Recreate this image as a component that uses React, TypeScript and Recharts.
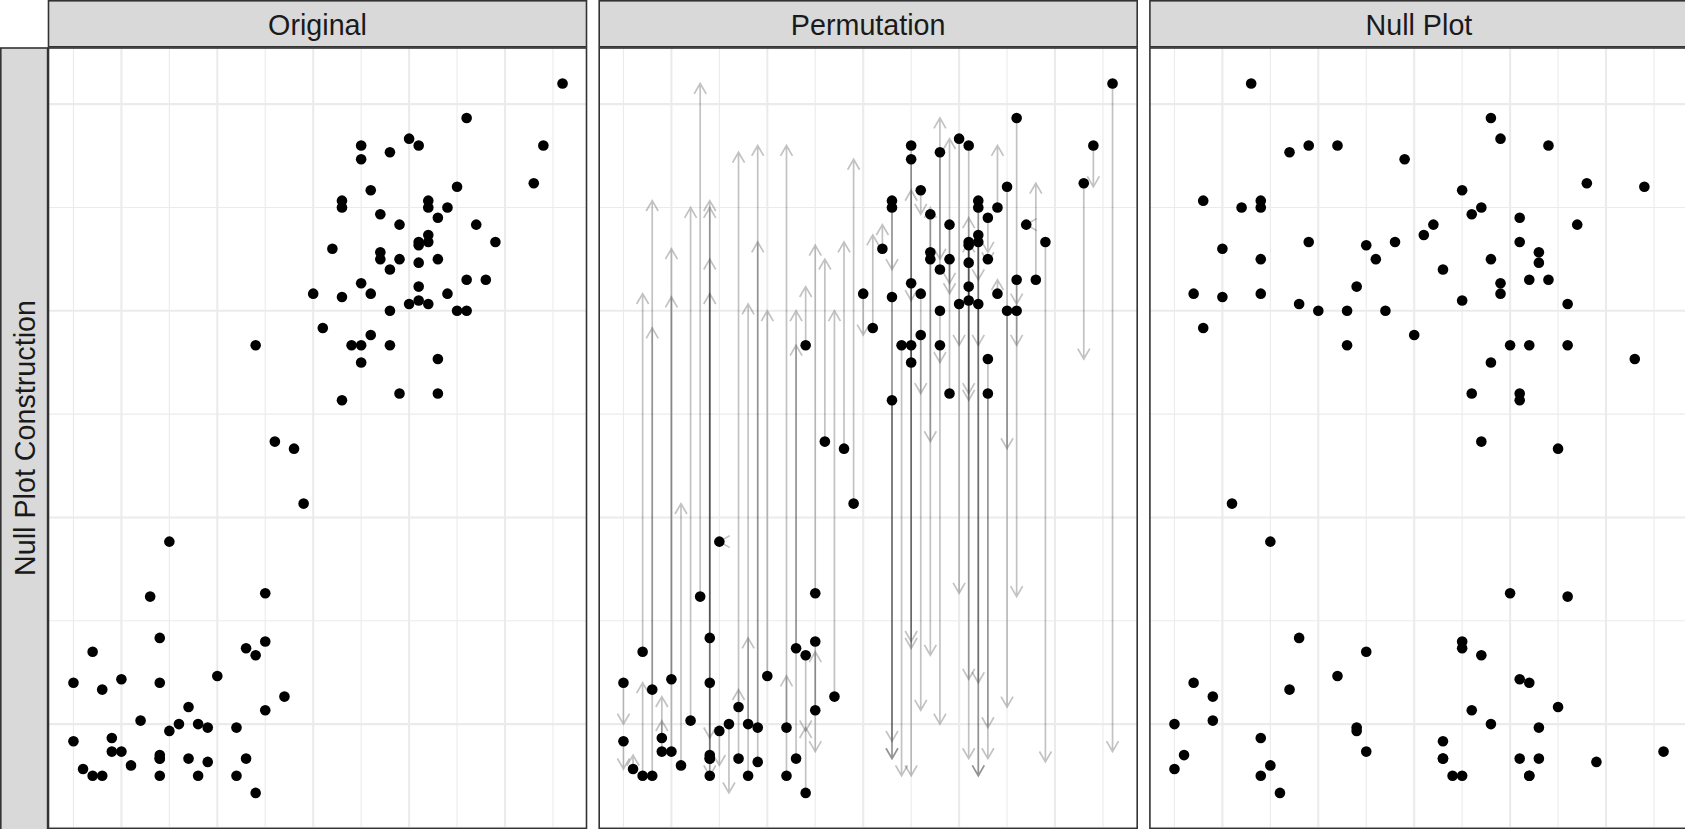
import React from 'react';
import { ScatterChart, Scatter, XAxis, YAxis, ReferenceLine } from 'recharts';

// Old Faithful style sample: waiting (x), eruptions (y), permuted eruptions (null y)
const waiting = [
  45, 45, 46, 47, 47, 48, 48, 49, 49, 50, 50, 51, 52, 53, 54, 54, 54, 54, 54, 54,
  55, 55, 56, 57, 57, 58, 58, 59, 59, 60, 62, 62, 63, 63, 64, 64, 64, 65, 65, 65,
  66, 67, 68, 69, 70, 71, 72, 73, 73, 73, 73, 74, 75, 75, 75, 75, 75, 76, 76, 76,
  77, 77, 77, 78, 78, 78, 78, 79, 79, 79, 80, 80, 81, 81, 81, 81, 81, 81, 82, 82,
  82, 82, 82, 83, 83, 83, 83, 84, 84, 85, 85, 86, 86, 86, 87, 88, 89, 93, 94, 96,
];
const eruptions = [
  2.2, 1.917, 1.783, 2.35, 1.75, 2.167, 1.75, 1.933, 1.867, 2.217, 1.867, 1.8, 2.017, 2.617, 2.417, 1.85, 1.833, 1.75, 2.2, 1.833,
  2.883, 1.967, 2.0, 2.083, 1.833, 2.0, 1.75, 1.983, 1.817, 2.233, 1.983, 1.75, 2.367, 1.833, 3.833, 2.333, 1.667, 2.633, 2.4, 2.067,
  3.367, 2.133, 3.333, 3.067, 4.083, 3.917, 4.3, 4.533, 4.5, 4.067, 3.567, 3.833, 4.8, 4.733, 4.133, 3.833, 3.75, 4.583, 4.083, 3.883,
  4.467, 4.283, 4.25, 4.767, 4.2, 4.0, 3.833, 4.417, 4.25, 3.6, 4.833, 4.033, 4.8, 4.333, 4.317, 4.233, 4.117, 4.05, 4.533, 4.5,
  4.367, 4.333, 4.033, 4.45, 4.25, 3.767, 3.6, 4.5, 4.083, 4.6, 4.0, 4.933, 4.15, 4.0, 4.417, 4.15, 4.333, 4.617, 4.8, 5.1,
];
const permuted = [
  2.0, 1.783, 1.85, 4.083, 2.2, 4.533, 3.917, 2.017, 2.133, 4.3, 4.067, 3.067, 4.5, 5.1, 4.533, 4.5, 4.25, 4.083, 1.933, 1.75,
  2.883, 1.8, 1.667, 4.767, 2.167, 4.033, 2.417, 4.8, 4.333, 4.0, 4.8, 2.233, 4.0, 3.833, 4.117, 1.967, 1.983, 4.317, 1.867, 2.35,
  4.25, 4.0, 4.333, 4.733, 3.883, 4.367, 4.417, 4.2, 1.917, 1.833, 1.833, 1.75, 4.05, 2.4, 2.367, 1.75, 4.583, 4.467, 3.6, 2.067,
  3.367, 2.333, 4.5, 4.25, 4.933, 2.0, 3.75, 4.133, 4.083, 4.833, 3.833, 2.633, 3.6, 3.567, 2.217, 4.45, 1.833, 4.333, 3.833, 2.2,
  4.15, 1.75, 1.75, 4.283, 4.233, 1.983, 1.833, 4.8, 4.15, 3.333, 2.083, 4.033, 3.833, 2.617, 4.417, 4.617, 1.817, 3.767, 4.6, 1.867,
];

const panelTitles = ['Original', 'Permutation', 'Null Plot'];
const rowTitle = 'Null Plot Construction';

const xMajor = [50, 60, 70, 80, 90];
const xMinor = [45, 55, 65, 75, 85, 95];
const yMajor = [2, 3, 4, 5];
const yMinor = [1.5, 2.5, 3.5, 4.5];

const X_DOMAIN: [number, number] = [42.45, 98.55];
const Y_DOMAIN: [number, number] = [1.4953, 5.2717];

const origPts = waiting.map((x, i) => ({ x, y: eruptions[i] }));
const nullPts = waiting.map((x, i) => ({ x, y: permuted[i] }));
const arrows = waiting.map((x, i) => ({ x, from: eruptions[i], to: permuted[i] }));

const PW = 538;
const PH = 780.4;
const TOP = 48;
const LEFT0 = 48.5;
const PITCH = 550.7;
const BORDER = '#333333';
const STRIP = '#D9D9D9';
const GRID = '#EBEBEB';
const FONT = '"Liberation Sans", Arial, Helvetica, sans-serif';

const Dot = (p: any) => <circle cx={p.cx} cy={p.cy} r={5.3} fill="#000000" />;

const ArrowShape = (p: any) => {
  const x1 = Number(p.x1), y1 = Number(p.y1), x2 = Number(p.x2), y2 = Number(p.y2);
  if (![x1, y1, x2, y2].every((v) => Number.isFinite(v))) return <g />;
  const L = 12;
  const ang = Math.PI / 6;
  const dx = x2 - x1;
  const dy = y2 - y1;
  const len = Math.hypot(dx, dy);
  let bx: number, by: number;
  if (len < 0.5) {
    bx = 1; by = 0;
  } else {
    bx = -dx / len; by = -dy / len;
  }
  const c = Math.cos(ang), s = Math.sin(ang);
  const w1x = x2 + L * (bx * c - by * s);
  const w1y = y2 + L * (bx * s + by * c);
  const w2x = x2 + L * (bx * c + by * s);
  const w2y = y2 + L * (-bx * s + by * c);
  const d = `M${x1},${y1}L${x2},${y2}M${w1x},${w1y}L${x2},${y2}L${w2x},${w2y}`;
  return <path d={d} fill="none" stroke="#000000" strokeOpacity={0.24} strokeWidth={1.7} />;
};

function Panel({ kind }: { kind: number }) {
  const pts = kind === 2 ? nullPts : origPts;
  return (
    <ScatterChart width={PW} height={PH} margin={{ top: 0, right: 0, bottom: 0, left: 0 }}>
      <XAxis type="number" dataKey="x" domain={X_DOMAIN} allowDataOverflow hide />
      <YAxis type="number" dataKey="y" domain={Y_DOMAIN} allowDataOverflow hide />
      {xMinor.map((v) => (
        <ReferenceLine key={'xn' + v} x={v} stroke={GRID} strokeWidth={1.1} />
      ))}
      {yMinor.map((v) => (
        <ReferenceLine key={'yn' + v} y={v} stroke={GRID} strokeWidth={1.1} />
      ))}
      {xMajor.map((v) => (
        <ReferenceLine key={'xj' + v} x={v} stroke={GRID} strokeWidth={2.1} />
      ))}
      {yMajor.map((v) => (
        <ReferenceLine key={'yj' + v} y={v} stroke={GRID} strokeWidth={2.1} />
      ))}
      {kind === 1 &&
        arrows.map((a, i) => (
          <ReferenceLine
            key={'ar' + i}
            segment={[
              { x: a.x, y: a.from },
              { x: a.x, y: a.to },
            ]}
            shape={ArrowShape}
          />
        ))}
      <Scatter data={pts} shape={Dot} isAnimationActive={false} />
    </ScatterChart>
  );
}

export default function App() {
  return (
    <div
      style={{
        position: 'absolute',
        left: 0,
        top: 0,
        width: 1685,
        height: 829,
        overflow: 'hidden',
        background: '#ffffff',
        fontFamily: FONT,
      }}
    >
      {[0, 1, 2].map((k) => (
        <div key={k} style={{ position: 'absolute', left: LEFT0 + k * PITCH, top: TOP, width: PW, height: PH }}>
          <Panel kind={k} />
        </div>
      ))}
      <svg
        width={1685}
        height={829}
        style={{ position: 'absolute', left: 0, top: 0, pointerEvents: 'none' }}
      >
        {[0, 1, 2].map((k) => {
          const L = LEFT0 + k * PITCH;
          return (
            <g key={k}>
              <rect x={L} y={0.8} width={PW} height={46} fill={STRIP} stroke={BORDER} strokeWidth={1.6} />
              <text
                x={L + PW / 2}
                y={35}
                textAnchor="middle"
                fontFamily={FONT}
                fontSize={28.7}
                fill="#1A1A1A"
              >
                {panelTitles[k]}
              </text>
              <rect x={L} y={TOP} width={PW} height={PH} fill="none" stroke={BORDER} strokeWidth={1.6} />
            </g>
          );
        })}
        <rect x={0.8} y={TOP} width={46.8} height={800} fill={STRIP} stroke={BORDER} strokeWidth={1.6} />
        <text
          transform={`translate(35,438) rotate(-90)`}
          textAnchor="middle"
          fontFamily={FONT}
          fontSize={28.7}
          fill="#1A1A1A"
        >
          {rowTitle}
        </text>
      </svg>
    </div>
  );
}
